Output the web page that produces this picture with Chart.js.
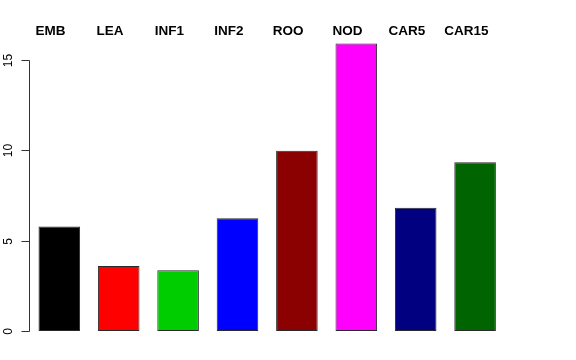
<!DOCTYPE html>
<html>
<head>
<meta charset="utf-8">
<script src="https://cdn.jsdelivr.net/npm/chart.js@4/dist/chart.umd.min.js"></script>
<style>
html,body{margin:0;padding:0;background:#fff;}
#wrap{width:576px;height:360px;}
</style>
</head>
<body>
<div id="wrap"><canvas id="c" width="576" height="360"></canvas></div>
<script>
const categories = ["EMB", "LEA", "INF1", "INF2", "ROO", "NOD", "CAR5", "CAR15"];
const values = [5.79, 3.60, 3.36, 6.24, 9.98, 15.92, 6.82, 9.34];
const barColors = ["#000000", "#FF0000", "#00CD00", "#0000FF", "#8B0000", "#FF00FF", "#000080", "#006400"];
const yTicks = [0, 5, 10, 15];

const axisPlugin = {
  id: 'rAxes',
  afterDraw(chart) {
    const ctx = chart.ctx;
    const ys = chart.scales.y;
    const xs = chart.scales.x;
    const ax = Math.round(chart.chartArea.left) - 0.5;
    ctx.save();
    ctx.strokeStyle = '#333';
    ctx.lineWidth = 1;
    // axis line
    const y0 = ys.getPixelForValue(yTicks[0]);
    const y1 = ys.getPixelForValue(yTicks[yTicks.length - 1]);
    ctx.beginPath();
    ctx.moveTo(ax, Math.round(y0) + 0.5);
    ctx.lineTo(ax, Math.round(y1) + 0.5);
    ctx.stroke();
    ctx.fillStyle = '#000';
    ctx.font = '12px "Liberation Sans", Arial, sans-serif';
    ctx.textAlign = 'center';
    ctx.textBaseline = 'alphabetic';
    yTicks.forEach(v => {
      const py = Math.round(ys.getPixelForValue(v)) + 0.5;
      ctx.beginPath();
      ctx.moveTo(ax - 8, py);
      ctx.lineTo(ax, py);
      ctx.stroke();
      ctx.save();
      ctx.translate(ax - 18, py);
      ctx.rotate(-Math.PI / 2);
      ctx.fillText(String(v), 0, 0);
      ctx.restore();
    });
    // category labels on top
    ctx.font = 'bold 13.5px "Liberation Sans", Arial, sans-serif';
    ctx.textAlign = 'center';
    categories.forEach((c, i) => {
      const px = xs.getPixelForValue(i) - 8.7;
      ctx.fillText(c, px, 34.5);
    });
    ctx.restore();
  }
};

new Chart(document.getElementById('c'), {
  type: 'bar',
  data: {
    labels: categories,
    datasets: [{
      data: values,
      backgroundColor: barColors,
      borderColor: '#2a2a2a',
      borderWidth: 1,
      borderSkipped: false,
      categoryPercentage: 1.0,
      barPercentage: 0.70
    }]
  },
  options: {
    responsive: false,
    animation: false,
    devicePixelRatio: 1,
    layout: { padding: { left: 29.6, right: 71.2, top: 42, bottom: 29 } },
    plugins: { legend: { display: false }, tooltip: { enabled: false } },
    scales: {
      x: { display: false },
      y: { display: false, min: 0, max: 16 }
    }
  },
  plugins: [axisPlugin]
});
</script>
</body>
</html>
